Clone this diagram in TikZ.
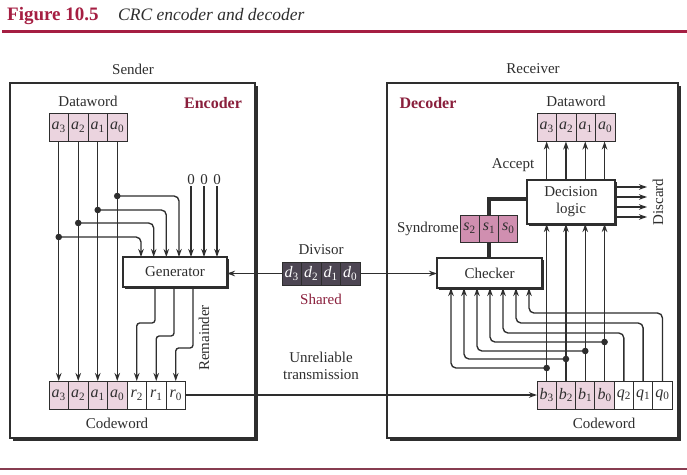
\documentclass[tikz,border=0pt]{standalone}
\usepackage{fontspec}
\setmainfont{Liberation Serif}
\usetikzlibrary{arrows.meta,calc,shadows}
\definecolor{titlered}{HTML}{A51E42}
\definecolor{darkred}{HTML}{8A1F3C}
\definecolor{cellpink}{HTML}{EBD4DF}
\definecolor{synpink}{HTML}{D08FB0}
\definecolor{divgray}{HTML}{4D4653}
\definecolor{ink}{HTML}{2E2E2E}
\newcommand\bitv[2]{\textit{#1}\textsubscript{#2}}
\begin{document}
\begin{tikzpicture}[x=1pt,y=-1pt,
  font=\fontsize{15}{17}\selectfont, text=ink,
  line/.style={draw=ink, line width=1.35pt},
  arr/.style={line, -{Stealth[length=8pt,width=5.5pt]}},
  thickline/.style={draw=ink, line width=3.2pt},
  cell/.style={draw=ink, line width=0.9pt, minimum width=19.5pt, minimum height=28pt,
    inner sep=0pt, outer sep=0pt, anchor=west, font=\fontsize{16}{18}\selectfont},
  pcell/.style={cell, fill=cellpink},
  wcell/.style={cell, fill=white},
  scell/.style={cell, fill=synpink, minimum width=19.3pt, minimum height=27pt},
  dcell/.style={cell, fill=divgray, text=white, minimum height=23pt},
  rcell/.style={cell, minimum width=19.3pt},
  proc/.style={draw=ink, fill=white, line width=1.2pt, inner sep=2pt, outer sep=0pt,
    drop shadow={shadow xshift=2pt, shadow yshift=-2pt, fill=ink, opacity=1}},
  lbl/.style={inner sep=1pt},
  red/.style={lbl, text=darkred, font=\fontsize{16}{18}\selectfont\bfseries},
  dot/.style={fill=ink}
]
\useasboundingbox (0,0) rectangle (687,474);

% title
\node[anchor=base west, inner sep=0pt, text=titlered, font=\fontsize{19}{21}\selectfont\bfseries] (ttl) at (7,20) {Figure 10.5};
\node[anchor=base west, inner sep=0pt, font=\fontsize{17.5}{20}\selectfont\itshape] (sub) at (118,20) {CRC encoder and decoder};
\draw[titlered, line width=3pt] (2,31) -- (687,31);
\draw[darkred!70!gray, line width=1.2pt] (0,469) -- (687,469);

% frames
\fill[ink] (12.5,85.5) rectangle (257.5,440.5);
\draw[ink, line width=1.3pt, fill=white] (10,83) rectangle (255,438);
\fill[ink] (389.5,85.5) rectangle (680.5,440.5);
\draw[ink, line width=1.3pt, fill=white] (387,83) rectangle (678,438);

\node[lbl] (sender) at (133,69) {Sender};
\node[lbl] (receiver) at (533,69) {Receiver};
\node[red] (enc) at (213,103) {Encoder};
\node[red] (dec2) at (428,103) {Decoder};

% ---------- sender ----------
\node[lbl] (sdw) at (88,101) {Dataword};
\node[pcell] (sa3) at (49,127) {\bitv{a}{3}};
\node[pcell] (sa2) at (sa3.east) {\bitv{a}{2}};
\node[pcell] (sa1) at (sa2.east) {\bitv{a}{1}};
\node[pcell] (sa0) at (sa1.east) {\bitv{a}{0}};

\node[pcell] (ca3) at (49,395) {\bitv{a}{3}};
\node[pcell] (ca2) at (ca3.east) {\bitv{a}{2}};
\node[pcell] (ca1) at (ca2.east) {\bitv{a}{1}};
\node[pcell] (ca0) at (ca1.east) {\bitv{a}{0}};
\node[wcell] (cr2) at (ca0.east) {\bitv{r}{2}};
\node[wcell] (cr1) at (cr2.east) {\bitv{r}{1}};
\node[wcell] (cr0) at (cr1.east) {\bitv{r}{0}};
\node[lbl] (scw) at (117,423) {Codeword};

\node[proc, minimum width=104pt, minimum height=30pt] (gen) at (175,272) {Generator};

\node[lbl, inner sep=0pt] (z1) at (191,180) {0};
\node[lbl, inner sep=0pt] (z2) at (204,180) {0};
\node[lbl, inner sep=0pt] (z3) at (217,180) {0};

\coordinate (ja0) at (117.25,196);
\coordinate (ja1) at (97.75,210);
\coordinate (ja2) at (78.25,223);
\coordinate (ja3) at (58.75,237);

\foreach \c in {a3,a2,a1,a0} \draw[arr] (s\c.south) -- (c\c.north);
\draw[arr, rounded corners=5pt] (ja3) -| ([xshift=18pt]gen.north west);
\draw[arr, rounded corners=5pt] (ja2) -| ([xshift=30.7pt]gen.north west);
\draw[arr, rounded corners=5pt] (ja1) -| ([xshift=43.3pt]gen.north west);
\draw[arr, rounded corners=5pt] (ja0) -| ([xshift=56pt]gen.north west);
\draw[arr] ([yshift=-1pt]z1.south) -- (z1.south |- gen.north);
\draw[arr] ([yshift=-1pt]z2.south) -- (z2.south |- gen.north);
\draw[arr] ([yshift=-1pt]z3.south) -- (z3.south |- gen.north);
\foreach \j in {ja0,ja1,ja2,ja3} \fill[dot] (\j) circle (3.3pt);

\draw[arr, rounded corners=3pt] ([xshift=32pt]gen.south west) -- ++(0,36) -| (cr2.north);
\draw[arr, rounded corners=3pt] ([xshift=51pt]gen.south west) -- ++(0,49) -| (cr1.north);
\draw[arr, rounded corners=3pt] ([xshift=70pt]gen.south west) -- ++(0,61) -| (cr0.north);
\node[lbl, rotate=90] (rem) at (204,338) {Remainder};

% ---------- divisor ----------
\node[lbl] (divl) at (321,250) {Divisor};
\node[dcell] (dv3) at (282,273.5) {\bitv{d}{3}};
\node[dcell] (dv2) at (dv3.east) {\bitv{d}{2}};
\node[dcell] (dv1) at (dv2.east) {\bitv{d}{1}};
\node[dcell] (dv0) at (dv1.east) {\bitv{d}{0}};
\node[lbl, text=darkred] (shared) at (321,299) {Shared};
\node[lbl, align=center] (unrel) at (321,366) {Unreliable\\transmission};

% ---------- receiver ----------
\node[lbl] (rdw) at (576,101) {Dataword};
\node[pcell] (rd3) at (537,127.5) {\bitv{a}{3}};
\node[pcell] (rd2) at (rd3.east) {\bitv{a}{2}};
\node[pcell] (rd1) at (rd2.east) {\bitv{a}{1}};
\node[pcell] (rd0) at (rd1.east) {\bitv{a}{0}};

\node[proc, minimum width=88pt, minimum height=44pt, align=center] (dec) at (571,202) {Decision\\logic};
\node[proc, minimum width=105pt, minimum height=30pt] (chk) at (489.5,273) {Checker};

\node[scell] (sy2) at (460,228.5) {\bitv{s}{2}};
\node[scell] (sy1) at (sy2.east) {\bitv{s}{1}};
\node[scell] (sy0) at (sy1.east) {\bitv{s}{0}};
\node[lbl, anchor=east] (synl) at (sy2.west) {Syndrome};
\draw[thickline] (sy1.north) |- ([yshift=3pt]dec.west);
\draw[thickline] (sy1.south) -- (sy1.south |- chk.north);

\node[lbl] (acc) at (513,165) {Accept};

\node[rcell, fill=cellpink] (rb3) at (537,395) {\bitv{b}{3}};
\node[rcell, fill=cellpink] (rb2) at (rb3.east) {\bitv{b}{2}};
\node[rcell, fill=cellpink] (rb1) at (rb2.east) {\bitv{b}{1}};
\node[rcell, fill=cellpink] (rb0) at (rb1.east) {\bitv{b}{0}};
\node[rcell, fill=white] (rq2) at (rb0.east) {\bitv{q}{2}};
\node[rcell, fill=white] (rq1) at (rq2.east) {\bitv{q}{1}};
\node[rcell, fill=white] (rq0) at (rq1.east) {\bitv{q}{0}};
\node[lbl] (rcw) at (604,423) {Codeword};

\foreach \i/\c in {3/b3,2/b2,1/b1,0/b0} {
  \draw[arr] (r\c.north) -- (r\c.north |- dec.south);
  \draw[arr] (r\c.north |- dec.north) -- (r\c.north |- rd\i.south);
}

\coordinate (jb3) at (546.65,368);
\coordinate (jb2) at (565.95,359);
\coordinate (jb1) at (585.25,351);
\coordinate (jb0) at (604.55,342);
\draw[arr, rounded corners=5pt] (jb3) -| ([xshift=14pt]chk.south west);
\draw[arr, rounded corners=5pt] (jb2) -| ([xshift=27pt]chk.south west);
\draw[arr, rounded corners=5pt] (jb1) -| ([xshift=40pt]chk.south west);
\draw[arr, rounded corners=5pt] (jb0) -| ([xshift=53pt]chk.south west);
\draw[arr, rounded corners=5pt] (rq2.north) -- ++(0,-48) -| ([xshift=66pt]chk.south west);
\draw[arr, rounded corners=5pt] (rq1.north) -- ++(0,-58) -| ([xshift=79pt]chk.south west);
\draw[arr, rounded corners=5pt] (rq0.north) -- ++(0,-68) -| ([xshift=92pt]chk.south west);
\foreach \j in {jb0,jb1,jb2,jb3} \fill[dot] (\j) circle (3.3pt);

\draw[arr] ([yshift=15pt]dec.east) -- ++(32,0);
\draw[arr] ([yshift=5pt]dec.east) -- ++(32,0);
\draw[arr] ([yshift=-5pt]dec.east) -- ++(32,0);
\draw[arr] ([yshift=-15pt]dec.east) -- ++(32,0);
\node[lbl, rotate=90] (disc) at (658,202) {Discard};

% ---------- links ----------
\draw[arr] (dv3.west) -- (dv3.west -| gen.east);
\draw[arr] (dv0.east) -- (dv0.east -| chk.west);
\draw[arr] (cr0.east) -- (rb3.west);
\end{tikzpicture}
\end{document}
